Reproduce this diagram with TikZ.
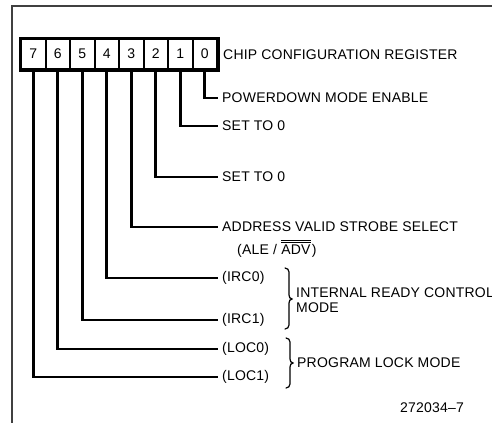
\documentclass[tikz,border=0pt]{standalone}
\usepackage{fontspec}
\setmainfont[LetterSpace=1.5]{Liberation Sans}
\begin{document}
\begin{tikzpicture}[x=1pt,y=-1pt,
  every node/.style={font=\fontsize{14}{16}\selectfont, text=black},
  cell/.style={draw, line width=2pt, minimum width=24.5pt, minimum height=30pt, inner sep=0pt},
  lbl/.style={anchor=west, inner xsep=4pt, inner ysep=0pt},
  plain/.style={anchor=west, inner sep=0pt},
  conn/.style={line width=2.6pt},
  brace/.style={line width=1.2pt, line cap=round},
  frame/.style={line width=1.2pt, draw=black!75}]
\useasboundingbox (0,0) rectangle (492,423);
\draw[frame] (492,6) -- (12,6) -- (12,423);
% register cells
\foreach \b [count=\i from 0] in {7,6,5,4,3,2,1,0}
  \node[cell] (c\b) at ({33.25+24.5*\i},54) {\b};
\draw[line width=3pt] (c7.north west) rectangle (c0.south east);
\node[plain] (title) at (223,55) {CHIP CONFIGURATION REGISTER};
% labels
\node[lbl] (l0) at (218,98) {POWERDOWN MODE ENABLE};
\node[lbl] (l1) at (218,126) {SET TO 0};
\node[lbl] (l2) at (218,177) {SET TO 0};
\node[lbl] (l3) at (218,227) {ADDRESS VALID STROBE SELECT};
\node[plain] (l3b) at (237,251) {(ALE /};
\node[plain, anchor=base west] (adv) at ([xshift=4pt]l3b.base east) {ADV};
\node[plain, anchor=base west] (l3c) at ([xshift=1pt]adv.base east) {)};
\node[lbl] (l4) at (218,278) {(IRC0)};
\node[lbl] (l5) at (218,320) {(IRC1)};
\node[lbl] (l6) at (218,349) {(LOC0)};
\node[lbl] (l7) at (218,377) {(LOC1)};
% overline on ADV
\draw[line width=0.9pt] ([yshift=2pt]adv.north west) -- ([yshift=2pt]adv.north east);
\draw[line width=0.9pt] ([yshift=4.2pt]adv.north west) -- ([yshift=4.2pt]adv.north east);
% connectors
\foreach \b in {0,...,7}
  \draw[conn] (c\b.south) |- (l\b.west);
% braces
\draw[brace] (285,268) to[out=0,in=90] (289,272) -- (289,295) to[out=-90,in=180] (292,299)
  to[out=180,in=90] (289,303) -- (289,325) to[out=-90,in=0] (285,329);
\node[plain] (irc) at (296,293) {INTERNAL READY CONTROL};
\node[plain] (ircm) at (296,308) {MODE};
\draw[brace] (286,338) to[out=0,in=90] (290,342) -- (290,359) to[out=-90,in=180] (293,363)
  to[out=180,in=90] (290,367) -- (290,384) to[out=-90,in=0] (286,388);
\node[plain] (loc) at (297,363) {PROGRAM LOCK MODE};
\node[plain] (fig) at (400,408) {272034\textendash7};
\end{tikzpicture}
\end{document}
